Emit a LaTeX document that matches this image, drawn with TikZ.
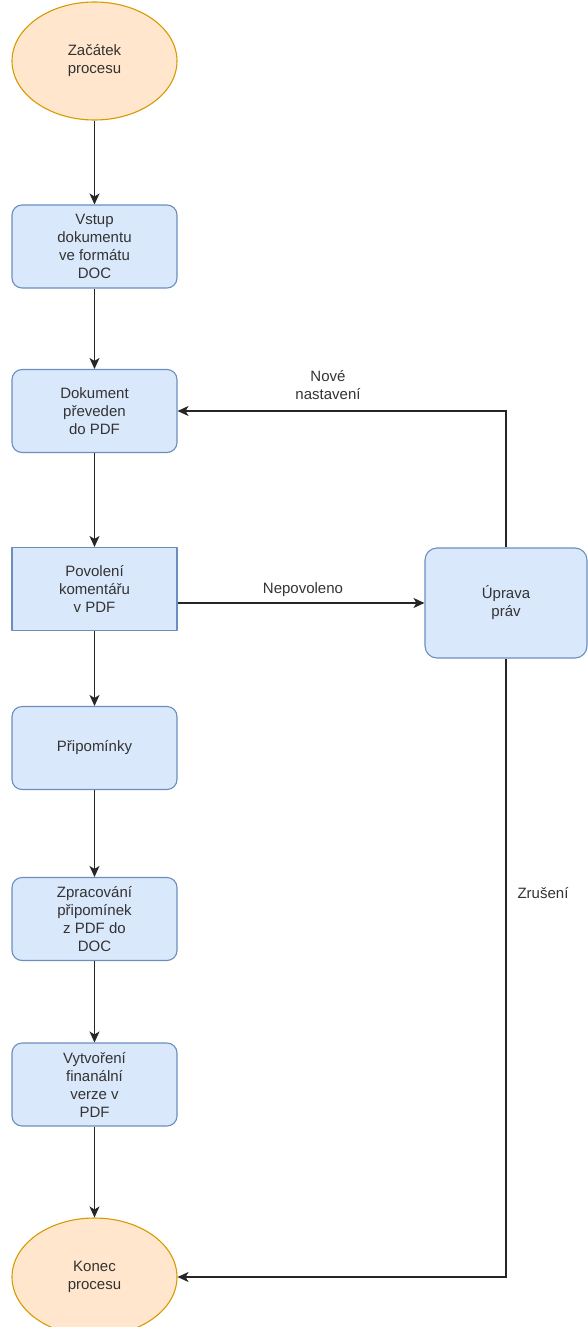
\documentclass[tikz,border=0pt]{standalone}
\usepackage{fontspec}
\setmainfont{Liberation Sans}
\usetikzlibrary{arrows.meta,shapes.geometric,calc}
\definecolor{procfill}{HTML}{DAE8FC}
\definecolor{procline}{HTML}{6C8EBF}
\definecolor{termfill}{HTML}{FFE6CC}
\definecolor{termline}{HTML}{D79B00}
\definecolor{ink}{HTML}{333333}

\begin{document}
\begin{tikzpicture}[x=1pt,y=-1pt,
  font=\fontsize{15}{18}\selectfont, text=ink,
  boxbase/.style={draw=procline, fill=procfill, minimum width=165pt,
    minimum height=83pt, inner sep=0pt, align=center, line width=1.1pt,
    line join=round},
  proc/.style={boxbase, rounded corners=10pt},
  plainbox/.style={boxbase},
  term/.style={ellipse, draw=termline, fill=termfill, minimum width=165pt,
    minimum height=118pt, inner sep=0pt, align=center, line width=1.1pt},
  flow/.style={draw=black!85, line width=1.5pt,
    -{Stealth[length=11pt,width=10pt,inset=3pt]}},
  lbl/.style={align=center, inner sep=0pt}]

\useasboundingbox (0,0) rectangle (587,1327);

% main column
\node[term] (start) at (94.5,61) {Začátek\\procesu};
\node[proc] (vstup) at (94.5,246.5) {Vstup\\dokumentu\\ve formátu\\DOC};
\node[proc] (pdf) at (94.5,411) {Dokument\\převeden\\do PDF};
\node[plainbox] (povol) at (94.5,589) {Povolení\\komentářu\\v PDF};
\node[proc] (pripom) at (94.5,748) {Připomínky};
\node[proc] (zprac) at (94.5,919) {Zpracování\\připomínek\\z PDF do\\DOC};
\node[proc] (vytv) at (94.5,1084.5) {Vytvoření\\finanální\\verze v\\PDF};
\node[term] (konec) at (94.5,1277) {Konec\\procesu};

% side branch
\node[proc, minimum width=162pt, minimum height=110pt, rounded corners=12pt]
  (uprava) at (506,603) {Úprava\\práv};

% connectors
\draw[flow] (start) -- (vstup);
\draw[flow] (vstup) -- (pdf);
\draw[flow] (pdf) -- (povol);
\draw[flow] (povol) -- (pripom);
\draw[flow] (pripom) -- (zprac);
\draw[flow] (zprac) -- (vytv);
\draw[flow] (vytv) -- (konec);
\draw[flow] (povol.east |- uprava.west) -- (uprava.west);
\draw[flow] (uprava.north) |- (pdf.east);
\draw[flow] (uprava.south) |- (konec.east);

% edge labels
\node[lbl] (lnove) at (328,385) {Nové\\nastavení};
\node[lbl] (lnepov) at (303,590) {Nepovoleno};
\node[lbl] (lzrus) at (543,893) {Zrušení};
\end{tikzpicture}
\end{document}
